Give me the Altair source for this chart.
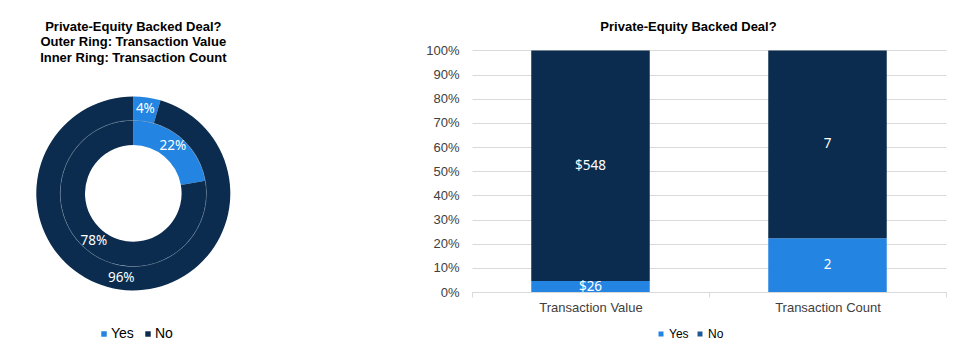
import math
import altair as alt
import pandas as pd

# ---------------- data ----------------
categories = ["Yes", "No"]
transaction_value = [26, 548]          # $ millions
transaction_count = [2, 7]
value_pct_labels = ["4%", "96%"]
count_pct_labels = ["22%", "78%"]
metrics = ["Transaction Value", "Transaction Count"]
left_title = ["Private-Equity Backed Deal?",
              "Outer Ring: Transaction Value",
              "Inner Ring: Transaction Count"]
right_title = "Private-Equity Backed Deal?"
y_ticks = [0, 0.1, 0.2, 0.3, 0.4, 0.5, 0.6, 0.7, 0.8, 0.9, 1.0]

YES = "#2384E2"
NO = "#0B2C4E"
NO_LEGEND_RIGHT = "#1C5996"
ARIAL = "Liberation Sans"
SEGOE = "Noto Sans"

outer = pd.DataFrame({"category": categories, "value": transaction_value,
                      "label": value_pct_labels, "order": [0, 1]})
inner = pd.DataFrame({"category": categories, "value": transaction_count,
                      "label": count_pct_labels, "order": [0, 1]})
bars = pd.DataFrame({
    "metric": [metrics[0]] * 2 + [metrics[1]] * 2,
    "category": categories * 2,
    "value": transaction_value + transaction_count,
    "label": ["$" + str(v) for v in transaction_value] + [str(v) for v in transaction_count],
    "order": [0, 1, 0, 1],
})
one = pd.DataFrame({"k": [0]})

# ---------------- left: double donut ----------------
CX, CY = 125.3, 185.4

color_left = alt.Color(
    "category:N",
    scale=alt.Scale(domain=categories, range=[YES, NO]),
    legend=alt.Legend(orient="none", legendX=89, legendY=319, direction="horizontal",
                      title=None, symbolType="square", symbolSize=30, symbolStrokeWidth=0,
                      labelFont=ARIAL, labelFontSize=14, labelColor="#000000",
                      labelOffset=0, columnPadding=7, padding=0),
)

outer_arc = alt.Chart(outer).mark_arc(radius=97, radius2=73).encode(
    theta=alt.Theta("value:Q", stack=True),
    order=alt.Order("order:Q"),
    color=color_left,
    x=alt.value(CX), y=alt.value(CY),
)
inner_arc = alt.Chart(inner).mark_arc(radius=73, radius2=48.3).encode(
    theta=alt.Theta("value:Q", stack=True),
    order=alt.Order("order:Q"),
    color=alt.Color("category:N", scale=alt.Scale(domain=categories, range=[YES, NO]), legend=None),
    x=alt.value(CX), y=alt.value(CY),
)
sep = alt.Chart(one).mark_arc(radius=73.5, radius2=72.8, theta=0, theta2=2 * math.pi,
                              color="#8095ab", opacity=0.6).encode(
    x=alt.value(CX), y=alt.value(CY))

outer_text = alt.Chart(outer).mark_text(radius=85, font=SEGOE, fontSize=13.5, color="white").encode(
    theta=alt.Theta("value:Q", stack=True),
    order=alt.Order("order:Q"),
    text="label:N",
    x=alt.value(CX), y=alt.value(CY),
)
inner_text = alt.Chart(inner).mark_text(radius=61.5, font=SEGOE, fontSize=13.5, color="white").encode(
    theta=alt.Theta("value:Q", stack=True),
    order=alt.Order("order:Q"),
    text="label:N",
    x=alt.value(CX), y=alt.value(CY),
)
left_title_mark = alt.Chart(one).mark_text(font=ARIAL, fontSize=13, fontWeight="bold",
                                           color="#000000", baseline="middle",
                                           lineHeight=15.3).encode(
    x=alt.value(CX), y=alt.value(19), text=alt.value(left_title))

left = alt.layer(outer_arc, inner_arc, sep, outer_text, inner_text, left_title_mark).resolve_scale(
    theta="independent").properties(width=250, height=284)

# ---------------- right: 100% stacked bars ----------------
H = 284
D = H / 241.5

base = alt.Chart(bars).transform_stack(
    stack="value", groupby=["metric"], sort=[alt.SortField("order", order="ascending")],
    as_=["y0", "y1"], offset="normalize",
).transform_calculate(mid="(datum.y0 + datum.y1) / 2")

x_axis = alt.Axis(labelAngle=0, labelFont=ARIAL, labelFontSize=13, labelColor="#404040",
                  domainColor="#d9d9d9", tickColor="#d9d9d9", tickSize=5,
                  tickBand="extent", labelPadding=4, grid=False)
y_axis = alt.Axis(values=y_ticks, format=".0%", labelFont=ARIAL, labelFontSize=13,
                  labelColor="#404040", gridColor="#d9d9d9", domain=False, ticks=False,
                  labelPadding=13, labelOverlap=False, grid=True)
x_scale = alt.Scale(paddingInner=0, paddingOuter=0)
y_scale = alt.Scale(domain=[0, D], nice=False, zero=True)


def xe():
    return alt.X("metric:N", sort=metrics, title=None, scale=x_scale, axis=x_axis)


def ye(field):
    return alt.Y(field, scale=y_scale, title=None, axis=y_axis)


bar = base.mark_bar(width={"band": 0.5}).encode(
    x=xe(),
    y=ye("y0:Q"),
    y2="y1:Q",
    color=alt.Color("category:N", scale=alt.Scale(domain=categories, range=[YES, NO]), legend=None),
)
bar_text = base.mark_text(font=SEGOE, fontSize=13.5, color="white").encode(
    x=xe(),
    y=ye("mid:Q"),
    text="label:N",
)
legend_layer = base.mark_square(opacity=0).encode(
    x=xe(),
    y=ye("mid:Q"),
    color=alt.Color("category:N", scale=alt.Scale(domain=categories, range=[YES, NO_LEGEND_RIGHT]),
                    legend=alt.Legend(orient="none", legendX=183, legendY=320, direction="horizontal",
                                      title=None, symbolType="square", symbolSize=25,
                                      symbolOpacity=1, symbolStrokeWidth=0,
                                      labelFont=ARIAL, labelFontSize=12, labelColor="#000000",
                                      labelOffset=2, columnPadding=5, padding=0)),
)
right_title_mark = alt.Chart(one).mark_text(font=ARIAL, fontSize=13, fontWeight="bold",
                                            color="#000000", baseline="middle").encode(
    x=alt.value(216.5), y=alt.value(19), text=alt.value(right_title))

right = alt.layer(bar, bar_text, legend_layer, right_title_mark).resolve_scale(
    color="independent").properties(width=474, height=H)

chart = alt.hconcat(left, right, spacing=214, bounds="flush").properties(
    padding=0, background="white").configure_view(stroke=None)

chart.save("out.html", embed_options={"renderer": "svg", "actions": False})
